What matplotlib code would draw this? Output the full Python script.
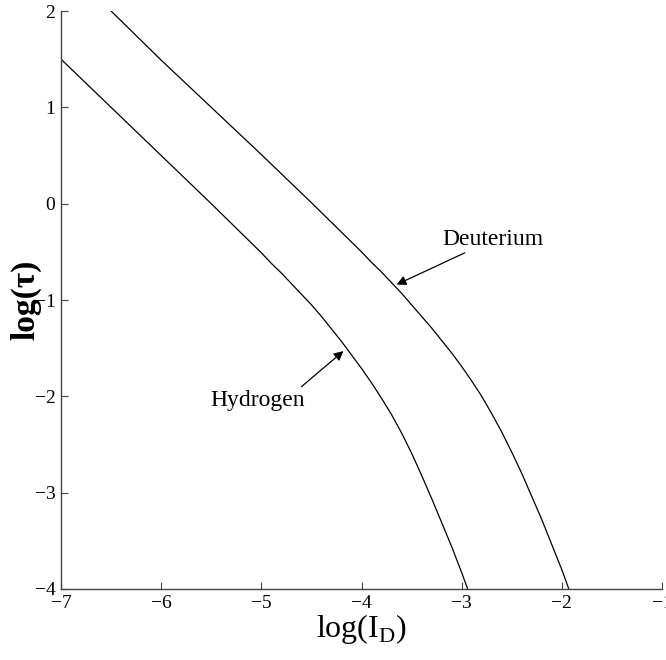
import numpy as np
import matplotlib
matplotlib.use("Agg")
import matplotlib.pyplot as plt

plt.rcParams["font.family"] = ["Liberation Serif", "DejaVu Serif"]
plt.rcParams["mathtext.fontset"] = "custom"
plt.rcParams["mathtext.rm"] = "Liberation Serif"

# log(I_D) vs log(tau)
hyd_x = [-7.0, -6.5, -6.0, -5.5, -5.0, -4.9, -4.8, -4.7, -4.6, -4.5, -4.4, -4.3, -4.2, -4.1,
         -4.0, -3.9, -3.8, -3.7, -3.6, -3.5, -3.4, -3.3, -3.2, -3.1, -3.0, -2.94]
hyd_y = [1.50, 1.00, 0.50, 0.00, -0.51, -0.62, -0.72, -0.83, -0.94, -1.05, -1.17, -1.30, -1.43,
         -1.57, -1.71, -1.86, -2.02, -2.19, -2.38, -2.59, -2.82, -3.06, -3.31, -3.56, -3.83, -4.0]

deu_x = [-6.5, -6.0, -5.5, -5.0, -4.5, -4.0, -3.9, -3.8, -3.7, -3.6, -3.5, -3.4, -3.3, -3.2,
         -3.1, -3.0, -2.9, -2.8, -2.7, -2.6, -2.5, -2.4, -2.3, -2.2, -2.1, -2.0, -1.93]
deu_y = [2.00, 1.49, 1.00, 0.51, 0.01, -0.50, -0.61, -0.71, -0.82, -0.93, -1.05, -1.17, -1.29,
         -1.42, -1.55, -1.69, -1.84, -2.00, -2.18, -2.37, -2.58, -2.80, -3.04, -3.28, -3.54,
         -3.80, -4.0]

x_ticks = [-7, -6, -5, -4, -3, -2, -1]
y_ticks = [-4, -3, -2, -1, 0, 1, 2]

fig = plt.figure(figsize=(6.66, 6.60), dpi=100)
ax = fig.add_axes([0.0916, 0.1076, 0.9024, 0.8757])

ax.plot(hyd_x, hyd_y, color="black", linewidth=0.9)
ax.plot(deu_x, deu_y, color="black", linewidth=0.9)

arrow = dict(arrowstyle="-|>", color="black", lw=0.9, mutation_scale=14, shrinkA=0, shrinkB=0)

# Deuterium label, arrow from the text's lower left
ax.annotate("Deuterium", xy=(-3.65, -0.84), xytext=(-3.19, -0.43),
            fontsize=17, ha="left", va="baseline", arrowprops=arrow)

# Hydrogen label, arrow starts above the text's right end
ax.text(-5.51, -2.10, "Hydrogen", fontsize=17, ha="left", va="baseline")
ax.annotate("", xy=(-4.18, -1.53), xytext=(-4.60, -1.90), arrowprops=arrow)

ax.set_xlim(-7, -1)
ax.set_ylim(-4, 2)
ax.set_xticks(x_ticks)
ax.set_yticks(y_ticks)
ax.tick_params(direction="in", length=5, width=0.8, labelsize=14, colors="#444444",
               labelcolor="black", pad=4)

for s in ["top", "right"]:
    ax.spines[s].set_visible(False)
for s in ["left", "bottom"]:
    ax.spines[s].set_color("#444444")
    ax.spines[s].set_linewidth(1.0)

ax.set_xlabel("log(I$_{\\mathrm{D}}$)", fontsize=23, labelpad=0)
ax.set_ylabel("log(τ)", fontsize=24, fontweight="bold")
ax.yaxis.set_label_coords(-0.032, 0.5)

fig.savefig("out.png", dpi=100)
